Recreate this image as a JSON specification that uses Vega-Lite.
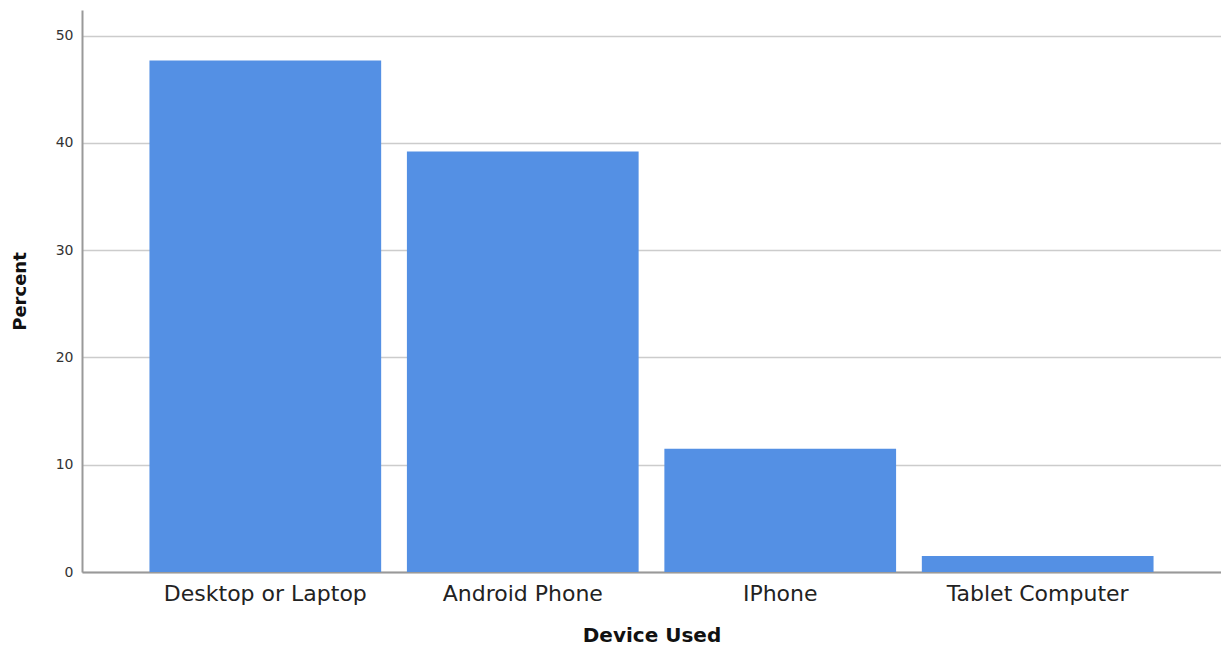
{
  "$schema": "https://vega.github.io/schema/vega-lite/v6.json",
  "width": 1139,
  "height": 562,
  "autosize": "none",
  "padding": {"left": 82, "top": 10, "right": 0, "bottom": 75},
  "background": "white",
  "config": {"view": {"stroke": null}, "font": "DejaVu Sans"},
  "data": {"values": [
    {"device": "Desktop or Laptop", "percent": 47.7},
    {"device": "Android Phone", "percent": 39.2},
    {"device": "IPhone", "percent": 11.5},
    {"device": "Tablet Computer", "percent": 1.5}
  ]},
  "mark": {"type": "bar", "color": "#5490e4"},
  "encoding": {
    "x": {
      "field": "device", "type": "nominal", "sort": null,
      "scale": {"paddingInner": 0.1, "paddingOuter": 0.262},
      "axis": {
        "title": "Device Used", "titleFont": "DejaVu Sans", "titleFontSize": 20, "titleFontWeight": "bold", "titleColor": "#111", "titlePadding": 21,
        "labelAngle": 0, "labelFontSize": 22, "labelColor": "#222", "labelPadding": 11, "labelLimit": 0, "labelOverlap": false,
        "ticks": false, "tickSize": 0, "domainColor": "#999", "domainWidth": 2, "grid": false
      }
    },
    "y": {
      "field": "percent", "type": "quantitative",
      "scale": {"domain": [0, 52.4], "nice": false},
      "axis": {
        "title": "Percent", "titleFontSize": 18, "titleFontWeight": "bold", "titleColor": "#111", "titlePadding": 26,
        "values": [0, 10, 20, 30, 40, 50], "labelFontSize": 14, "labelColor": "#333", "labelPadding": 9,
        "ticks": false, "tickSize": 0, "domainColor": "#999", "domainWidth": 2,
        "grid": true, "gridColor": "#cccccc", "gridWidth": 1.5
      }
    }
  }
}
